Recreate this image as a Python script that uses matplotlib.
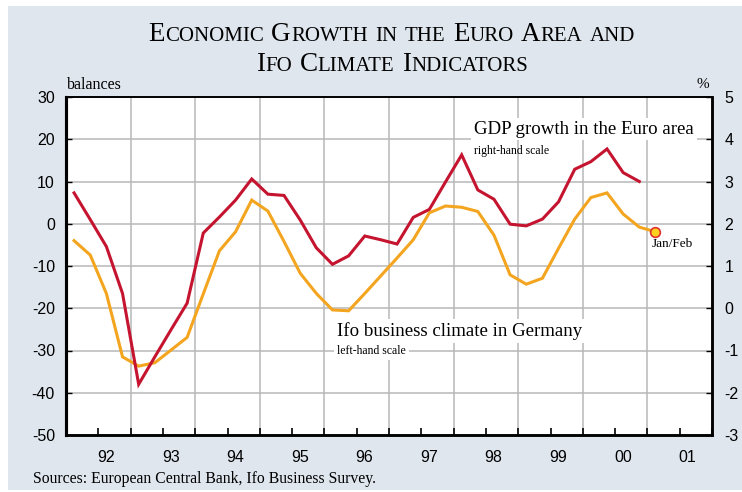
import matplotlib
matplotlib.use("Agg")
import matplotlib.pyplot as plt
import matplotlib.transforms as mtransforms
from matplotlib.patches import Rectangle
import pandas as pd

# ---------------- data ----------------
gdp_quarters = pd.period_range("1992Q1", periods=36, freq="Q")
gdp_growth = [2.73, 2.10, 1.46, 0.35, -1.80, -1.15, -0.51, 0.12,
              1.78, 2.16, 2.56, 3.06, 2.70, 2.67, 2.09, 1.43,
              1.04, 1.24, 1.71, 1.62, 1.52, 2.15, 2.34, 2.99,
              3.63, 2.80, 2.58, 1.99, 1.95, 2.11, 2.52, 3.29,
              3.47, 3.77, 3.21, 3.00]
ifo_quarters = pd.period_range("1992Q1", periods=37, freq="Q")
ifo_climate = [-4.0, -7.4, -16.5, -31.5, -33.7, -32.9, -29.9, -26.9,
               -16.6, -6.4, -1.9, 5.6, 3.0, -4.2, -11.7, -16.5,
               -20.4, -20.6, -16.5, -12.3, -8.1, -3.8, 2.6, 4.2,
               3.9, 2.9, -2.7, -12.1, -14.3, -12.9, -5.8, 1.1,
               6.2, 7.3, 2.3, -0.8, -1.9]
year_labels = ["92", "93", "94", "95", "96", "97", "98", "99", "00", "01"]
left_ticks = [-50, -40, -30, -20, -10, 0, 10, 20, 30]
right_ticks = [-3, -2, -1, 0, 1, 2, 3, 4, 5]


def qpos(periods):
    return [p.year + (p.quarter - 1) / 4 + 0.125 for p in periods]


x_gdp = qpos(gdp_quarters)
x_ifo = qpos(ifo_quarters)
years = [1992 + i for i in range(len(year_labels))]

# ---------------- style ----------------
BG = "#dfe6ee"
RED = "#c5142f"
ORANGE = "#f4a51f"
GRID = "#b8b8b8"
SERIF = ["Liberation Serif", "DejaVu Serif"]
SANS = ["Liberation Sans", "DejaVu Sans"]

W, H = 742, 492
fig = plt.figure(figsize=(W / 100, H / 100), dpi=100, facecolor="white")
fig.patches.append(Rectangle((8 / W, 2 / H), 1 - 8 / W, (H - 8) / H,
                             transform=fig.transFigure, facecolor=BG,
                             edgecolor="none", zorder=-10))
# pixel transform with top-left origin
PIX = mtransforms.Affine2D().scale(1, -1).translate(0, H)

L, R, T, B = 66, 712, 97, 435
ax = fig.add_axes([L / W, 1 - B / H, (R - L) / W, (B - T) / H])
ax.set_facecolor("white")
ax.set_xlim(years[0], years[-1] + 1)
ax.set_ylim(-50, 30)
ax.set_yticks(left_ticks)
ax.set_yticklabels([str(v) for v in left_ticks])

for v in left_ticks[1:-1]:
    ax.axhline(v, color=GRID, lw=1.1, zorder=0.5)
for yv in years[1:]:
    ax.axvline(yv, color=GRID, lw=1.1, zorder=0.5)

ax.set_xticks([y + 0.62 for y in years])
ax.set_xticklabels(year_labels, family=SANS, fontsize=11.5)
ax.tick_params(axis="x", which="major", length=0, pad=11)
minor = []
for y in years:
    minor += [y, y + 0.5]
minor.append(years[-1] + 1)
ax.set_xticks(minor, minor=True)
ax.tick_params(axis="x", which="minor", direction="in", length=5,
               width=1.2, color="black", top=False)
ax.tick_params(axis="y", which="major", direction="in", length=4,
               width=1, labelsize=11.5, pad=8)
for lab in ax.get_yticklabels():
    lab.set_family(SANS)

ax.plot(x_ifo, ifo_climate, color=ORANGE, lw=2.2, zorder=3,
        solid_joinstyle="miter")

for side, lw in (("left", 2.2), ("bottom", 1.8), ("right", 1.8), ("top", 1.2)):
    ax.spines[side].set_linewidth(lw)
    ax.spines[side].set_color("black")

ax2 = ax.twinx()
ax2.set_ylim(-3, 5)
ax2.set_yticks(right_ticks)
ax2.set_yticklabels([str(v) for v in right_ticks])
ax2.tick_params(axis="y", direction="in", length=4, width=1,
                labelsize=11.5, pad=9)
for lab in ax2.get_yticklabels():
    lab.set_family(SANS)
ax2.spines["right"].set_linewidth(1.8)
ax2.spines["left"].set_linewidth(2.2)
ax2.spines["bottom"].set_linewidth(1.8)
ax2.spines["top"].set_linewidth(1.2)

ax2.plot(x_gdp, gdp_growth, color=RED, lw=2.2, zorder=4,
         solid_joinstyle="miter")

# end marker Jan/Feb on the Ifo series (left scale -> right scale)
last_ifo_right = (ifo_climate[-1] + 20) / 10
ax2.plot([x_ifo[-1]], [last_ifo_right], marker="o", ms=7,
         markerfacecolor="#ffd21f", markeredgecolor="#e0302f",
         markeredgewidth=1.2, zorder=5)
ax2.annotate("Jan/Feb", (x_ifo[-1], last_ifo_right), xytext=(-3, -9),
             textcoords="offset points", ha="left", va="center",
             family=SERIF, fontsize=9.5)

# series labels
ax2.text(474, 129, "GDP growth in the Euro area", transform=PIX,
         family=SERIF, fontsize=13.6, ha="left", va="center",
         bbox=dict(facecolor="white", edgecolor="none", pad=2))
ax2.text(474, 151, "right-hand scale", transform=PIX,
         family=SERIF, fontsize=8.5, ha="left", va="center")
ax2.text(337, 331, "Ifo business climate in Germany", transform=PIX,
         family=SERIF, fontsize=13.6, ha="left", va="center",
         bbox=dict(facecolor="white", edgecolor="none", pad=2.5))
ax2.text(337, 351, "left-hand scale", transform=PIX,
         family=SERIF, fontsize=8.5, ha="left", va="center",
         bbox=dict(facecolor="white", edgecolor="none", pad=2))

# axis captions
fig.text(67, 85, "balances", transform=PIX, family=SERIF, fontsize=11.5,
         ha="left", va="center")
fig.text(709, 85, "%", transform=PIX, family=SERIF, fontsize=11,
         ha="right", va="center")
fig.text(33, 479, "Sources: European Central Bank, Ifo Business Survey.",
         transform=PIX, family=SERIF, fontsize=11.3, ha="left", va="center")

# ---------------- small-caps title ----------------
renderer = fig.canvas.get_renderer()


def smallcaps_line(text, cx_px, base_px, big, small):
    pieces = []
    for w in text.split(" "):
        parts = []
        if w[0].isupper():
            parts.append((w[0], big))
            if len(w) > 1:
                parts.append((w[1:].upper(), small))
        else:
            parts.append((w.upper(), small))
        pieces.append(parts)
    space = 0.36 * small * 100 / 72
    objs = []
    for parts in pieces:
        row = []
        for s, fs in parts:
            t = fig.text(0, 0, s, fontsize=fs, family=SERIF, ha="left",
                         va="baseline", color="black", transform=PIX)
            row.append((t, t.get_window_extent(renderer).width))
        objs.append(row)
    total = sum(w for row in objs for _, w in row) + space * (len(objs) - 1)
    x = cx_px - total / 2
    for row in objs:
        for t, w in row:
            t.set_position((x, base_px))
            x += w
        x += space


smallcaps_line("Economic Growth in the Euro Area and", 392, 41, 19.5, 15)
smallcaps_line("Ifo Climate Indicators", 392, 71, 19.5, 15)

fig.savefig("out.png", dpi=100, facecolor=fig.get_facecolor())
